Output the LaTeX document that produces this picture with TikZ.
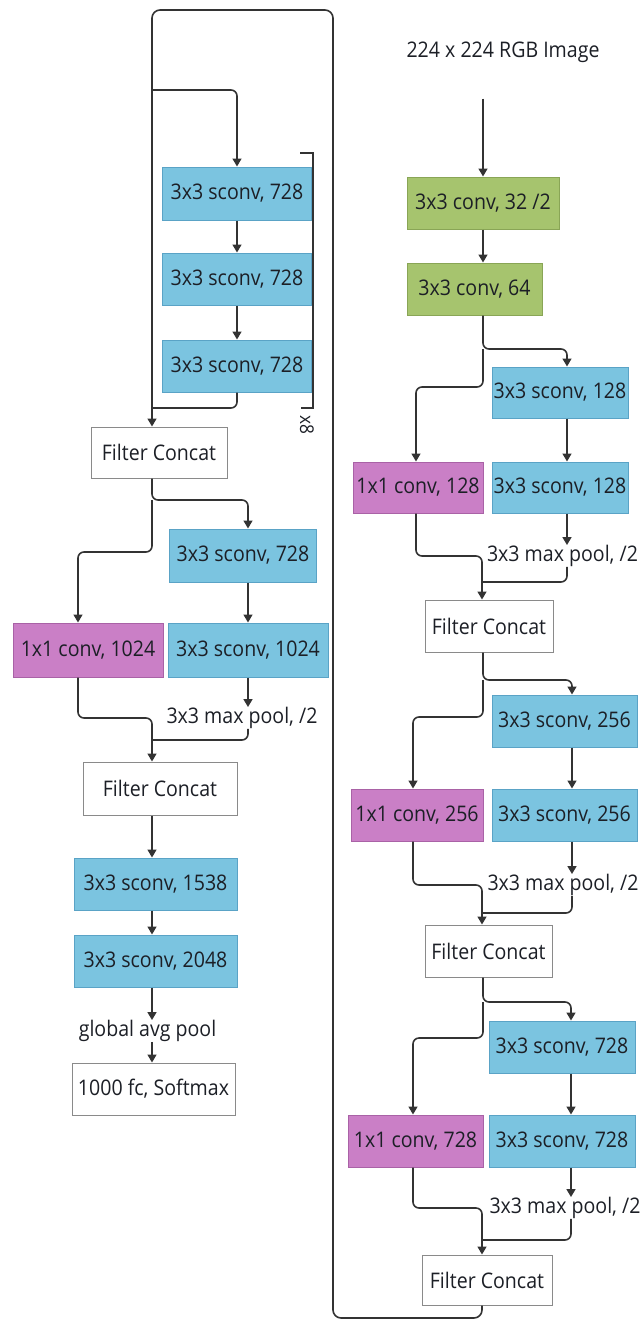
\documentclass[tikz,border=0pt]{standalone}
\usepackage{fontspec}
\setmainfont{Open Sans}[FakeStretch=0.91]
\usetikzlibrary{arrows.meta}
\definecolor{bluef}{HTML}{7BC4E0}
\definecolor{blued}{HTML}{5AA3C6}
\definecolor{greenf}{HTML}{A6C46E}
\definecolor{greend}{HTML}{89A556}
\definecolor{purpf}{HTML}{CA7FC6}
\definecolor{purpd}{HTML}{A962A6}
\definecolor{greyd}{HTML}{8A8A8A}
\definecolor{txt}{HTML}{1C1F26}
\definecolor{ln}{HTML}{333333}
\begin{document}
\begin{tikzpicture}[x=1pt,y=-1pt,
  lblfont/.style={font=\fontsize{21.5}{24}\selectfont},
  box/.style={draw, line width=1pt, minimum height=52pt, inner sep=0pt, lblfont, text=txt},
  bbox/.style={box, fill=bluef, draw=blued},
  gbox/.style={box, fill=greenf, draw=greend},
  pbox/.style={box, fill=purpf, draw=purpd},
  wbox/.style={box, fill=white, draw=greyd},
  lbl/.style={inner sep=0pt, lblfont, text=txt},
  line/.style={draw=ln, line width=1.6pt},
  arr/.style={line, -{Triangle[length=8pt,width=9pt]}},
  rc/.style={rounded corners=6pt}]
\useasboundingbox (0,0) rectangle (641,1320);

% ---------------- left column ----------------
\node[bbox, minimum width=149pt, minimum height=53pt] (L1) at (237,193.5) {3x3 sconv, 728};
\node[bbox, minimum width=149pt] (L2) at (237,279) {3x3 sconv, 728};
\node[bbox, minimum width=149pt] (L3) at (237,366) {3x3 sconv, 728};
\node[wbox, minimum width=136pt, minimum height=51pt] (LFC1) at (159,452.5) {Filter Concat};
\node[bbox, minimum width=147pt, minimum height=53pt] (L4) at (243,555.5) {3x3 sconv, 728};
\node[pbox, minimum width=150pt, minimum height=54pt] (LP) at (88,650) {1x1 conv, 1024};
\node[bbox, minimum width=160pt, minimum height=54pt] (L5) at (248,650) {3x3 sconv, 1024};
\node[lbl] (LM) at (242,718) {3x3 max pool, /2};
\node[wbox, minimum width=154pt, minimum height=53pt] (LFC2) at (160,788.5) {Filter Concat};
\node[bbox, minimum width=163pt] (L6) at (155.5,884) {3x3 sconv, 1538};
\node[bbox, minimum width=163pt] (L7) at (155.5,961) {3x3 sconv, 2048};
\node[lbl] (LG) at (147.5,1031) {global avg pool};
\node[wbox, minimum width=163pt] (L8) at (153.5,1089) {1000 fc, Softmax};
\node[lbl, rotate=-90, font=\fontsize{19}{22}\selectfont] (X8) at (307,425) {x8};

% helper coordinates (left)
\coordinate (lpBot) at (333,1318);
\coordinate (lpTop) at (333,10);
\coordinate (lpTL) at (152,10);
\coordinate (lpBr) at (152,90);
\coordinate (lx8) at (152,408);
\coordinate (bk1) at (300,153);
\coordinate (bk2) at (313,408);
\coordinate (lb) at (152,500);
\coordinate (lm) at (152,552);
\coordinate (lsx) at (248,0);
\coordinate (lpx) at (78,0);
\coordinate (lc) at (152,718);
\coordinate (lj) at (152,740);
\coordinate (lax) at (152,0);

% ---------------- right column ----------------
\node[lbl] (IN) at (503,52) {224 x 224 RGB Image};
\node[gbox, minimum width=152pt] (G1) at (483,203) {3x3 conv, 32 /2};
\node[gbox, minimum width=135pt] (G2) at (474.5,289) {3x3 conv, 64};

\node[bbox, minimum width=136pt, minimum height=51pt] (R1a) at (560,392.5) {3x3 sconv, 128};
\node[pbox, minimum width=130pt, minimum height=51pt] (RP1) at (418,487.5) {1x1 conv, 128};
\node[bbox, minimum width=136pt, minimum height=51pt] (R1b) at (560,487.5) {3x3 sconv, 128};
\node[lbl] (RM1) at (562.5,556) {3x3 max pool, /2};
\node[wbox, minimum width=128pt] (RFC1) at (489,626) {Filter Concat};

\node[bbox, minimum width=145pt] (R2a) at (564.5,721) {3x3 sconv, 256};
\node[pbox, minimum width=132pt] (RP2) at (417,815) {1x1 conv, 256};
\node[bbox, minimum width=145pt] (R2b) at (564.5,815) {3x3 sconv, 256};
\node[lbl] (RM2) at (563,885) {3x3 max pool, /2};
\node[wbox, minimum width=127pt] (RFC2) at (488.5,951) {Filter Concat};

\node[bbox, minimum width=146pt] (R3a) at (562,1047) {3x3 sconv, 728};
\node[pbox, minimum width=135pt] (RP3) at (415.5,1141) {1x1 conv, 728};
\node[bbox, minimum width=146pt] (R3b) at (562,1141) {3x3 sconv, 728};
\node[lbl] (RM3) at (565,1208) {3x3 max pool, /2};
\node[wbox, minimum width=130pt, minimum height=50pt] (RFC3) at (487,1280) {Filter Concat};

% helper coordinates (right)
\coordinate (rax) at (483,0);
\coordinate (b1) at (483,349);  \coordinate (m1) at (483,387);
\coordinate (s1) at (567,0);    \coordinate (p1) at (416,0);
\coordinate (c1) at (482,556);  \coordinate (j1) at (482,582);
\coordinate (b2) at (483,680);  \coordinate (m2) at (483,717);
\coordinate (s2) at (572,0);    \coordinate (p2) at (413,0);
\coordinate (c2) at (482,885);  \coordinate (j2) at (482,913);
\coordinate (b3) at (483,1002); \coordinate (m3) at (483,1038);
\coordinate (s3) at (571,0);    \coordinate (p3) at (413,0);
\coordinate (c3) at (482,1208); \coordinate (j3) at (482,1240);

% ---------------- connectors: left ----------------
\draw[arr, rounded corners=8pt] (RFC3.south -| j3) -- (lpBot -| j3) -- (lpBot) -- (lpTop) -- (lpTL) -- (LFC1.north -| lpTL);
\draw[arr, rc] (lpBr) -| (L1.north);
\draw[arr] (L1) -- (L2);
\draw[arr] (L2) -- (L3);
\draw[line, rc] (L3.south) |- (lx8);
\draw[line] (bk1) -| (bk2) -- ++(-12,0);

\draw[arr, rc] (LFC1.south -| lb) -- (lb) -| (L4.north -| lsx);
\draw[arr, rc] (lb) -- (lm) -| (LP.north -| lpx);
\draw[arr] (L4.south -| lsx) -- (L5.north -| lsx);
\draw[arr] (L5.south -| lsx) -- (LM.north -| lsx);
\draw[arr, rc] (LP.south -| lpx) |- (lc) -- (LFC2.north -| lc);
\draw[line, rc] (LM.south -| lsx) |- (lj);

\draw[arr] (LFC2.south -| lax) -- (L6.north -| lax);
\draw[arr] (L6.south -| lax) -- (L7.north -| lax);
\draw[arr] (L7.south -| lax) -- (LG.north -| lax);
\draw[arr] (LG.south -| lax) -- (L8.north -| lax);

% ---------------- connectors: right ----------------
\draw[arr, shorten <=36pt] (IN.south -| rax) -- (G1.north -| rax);
\draw[arr] (G1.south -| rax) -- (G2.north -| rax);

\draw[arr, rc] (G2.south -| rax) -- (b1) -| (R1a.north -| s1);
\draw[arr, rc] (b1) -- (m1) -| (RP1.north -| p1);
\draw[arr] (R1a.south -| s1) -- (R1b.north -| s1);
\draw[arr] (R1b.south -| s1) -- (RM1.north -| s1);
\draw[arr, rc] (RP1.south -| p1) |- (c1) -- (RFC1.north -| c1);
\draw[line, rc] (RM1.south -| s1) |- (j1);

\draw[arr, rc] (RFC1.south -| rax) -- (b2) -| (R2a.north -| s2);
\draw[arr, rc] (b2) -- (m2) -| (RP2.north -| p2);
\draw[arr] (R2a.south -| s2) -- (R2b.north -| s2);
\draw[arr] (R2b.south -| s2) -- (RM2.north -| s2);
\draw[arr, rc] (RP2.south -| p2) |- (c2) -- (RFC2.north -| c2);
\draw[line, rc] (RM2.south -| s2) |- (j2);

\draw[arr, rc] (RFC2.south -| rax) -- (b3) -| (R3a.north -| s3);
\draw[arr, rc] (b3) -- (m3) -| (RP3.north -| p3);
\draw[arr] (R3a.south -| s3) -- (R3b.north -| s3);
\draw[arr] (R3b.south -| s3) -- (RM3.north -| s3);
\draw[arr, rc] (RP3.south -| p3) |- (c3) -- (RFC3.north -| c3);
\draw[line, rc] (RM3.south -| s3) |- (j3);
\end{tikzpicture}
\end{document}
